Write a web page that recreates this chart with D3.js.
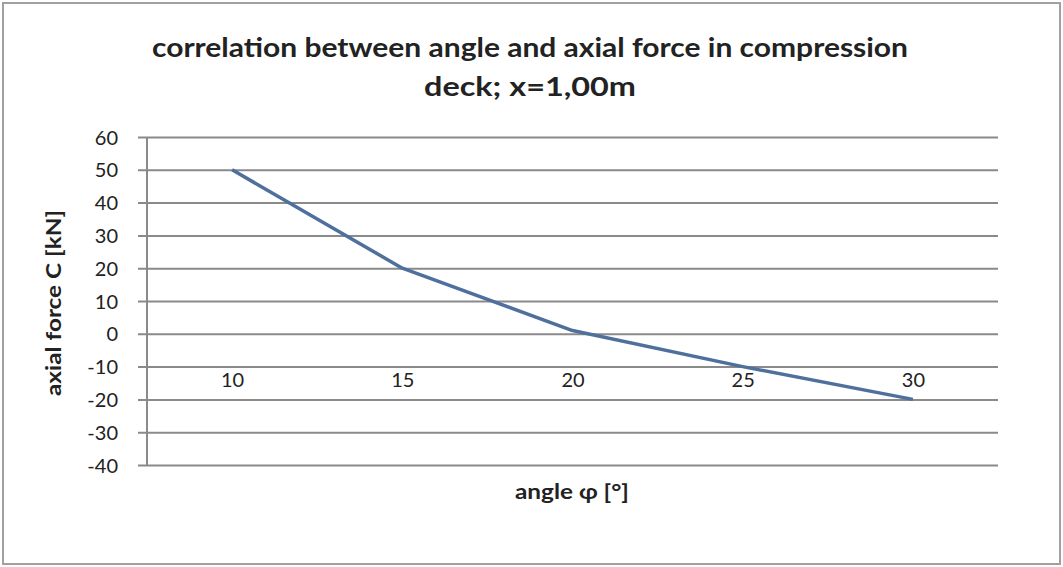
<!DOCTYPE html>
<html>
<head>
<meta charset="utf-8">
<script src="https://cdn.jsdelivr.net/npm/d3@7"></script>
<style>
  html, body { margin: 0; padding: 0; background: #fff; }
  svg { display: block; }
  text { font-family: Lato, "Open Sans", sans-serif; fill: #222; }
</style>
</head>
<body>
<svg id="chart" width="1063" height="567"></svg>
<script>
// Data: angle φ [°] vs. axial force C [kN]
const angles = ["10", "15", "20", "25", "30"];
const axialForce = [50, 20, 1, -10, -20];
const yTicks = [60, 50, 40, 30, 20, 10, 0, -10, -20, -30, -40];
const titleLines = ["correlation between angle and axial force in compression", "deck; x=1,00m"];
const xTitle = "angle φ [°]";
const yTitle = "axial force C [kN]";

const W = 1063, H = 567;
const plot = { left: 147, right: 998, top: 137, bottom: 465 };

const svg = d3.select("#chart");

// chart frame
svg.append("rect")
  .attr("x", 3).attr("y", 3).attr("width", W - 6).attr("height", H - 6)
  .attr("fill", "#fff").attr("stroke", "#a0a0a0").attr("stroke-width", 2);

const x = d3.scalePoint().domain(angles).range([plot.left, plot.right]).padding(0.5);
const y = d3.scaleLinear().domain([-40, 60]).range([plot.bottom, plot.top]);

// horizontal gridlines with the value axis (plain hyphen for negatives)
const yAxis = d3.axisLeft(y).tickValues(yTicks).tickSize(plot.right - plot.left + 1)
  .tickSizeOuter(0).tickPadding(0).tickFormat(d => String(d));
const gy = svg.append("g")
  .attr("transform", `translate(${plot.right},0)`)
  .call(yAxis);
gy.select(".domain").remove();
gy.selectAll(".tick line")
  .attr("x1", 0)
  .attr("x2", -(plot.right - plot.left + 9))
  .attr("stroke", "#8a8a8a").attr("stroke-width", 2);
gy.selectAll(".tick text")
  .attr("x", -(plot.right - 118))
  .attr("text-anchor", "end")
  .attr("dy", "0.35em")
  .style("font-size", "20px")
  .style("font-family", "Lato, sans-serif")
  .attr("fill", "#333");

// vertical axis line
svg.append("line")
  .attr("x1", plot.left).attr("x2", plot.left)
  .attr("y1", plot.top).attr("y2", plot.bottom)
  .attr("stroke", "#8a8a8a").attr("stroke-width", 2);

// category axis: crosses the value axis at -10, labels below it
const xAxis = d3.axisBottom(x).tickSize(0).tickPadding(6);
const gx = svg.append("g")
  .attr("transform", `translate(0,${y(-10)})`)
  .call(xAxis);
gx.select(".domain").remove();
gx.selectAll(".tick text")
  .style("font-size", "20px")
  .style("font-family", "Lato, sans-serif")
  .attr("fill", "#333");

// data line
const line = d3.line()
  .x((d, i) => x(angles[i]))
  .y(d => y(d));
svg.append("path")
  .datum(axialForce)
  .attr("d", line)
  .attr("fill", "none")
  .attr("stroke", "#4f6f9d")
  .attr("stroke-width", 3.5)
  .attr("stroke-linejoin", "round");

// title
const title = svg.append("text")
  .attr("text-anchor", "middle")
  .style("font-size", "27px")
  .style("font-weight", "bold")
  .attr("fill", "#1e1e1e");
title.append("tspan").attr("x", 530).attr("y", 57).text(titleLines[0])
  .attr("textLength", 756).attr("lengthAdjust", "spacingAndGlyphs");
title.append("tspan").attr("x", 530).attr("y", 96).text(titleLines[1])
  .attr("textLength", 212).attr("lengthAdjust", "spacingAndGlyphs");

// axis titles
svg.append("text")
  .attr("x", 572).attr("y", 499)
  .attr("text-anchor", "middle")
  .style("font-size", "21px").style("font-weight", "bold")
  .attr("fill", "#222")
  .attr("textLength", 114).attr("lengthAdjust", "spacingAndGlyphs")
  .text(xTitle);

svg.append("text")
  .attr("transform", `translate(61,303) rotate(-90)`)
  .attr("text-anchor", "middle")
  .style("font-size", "21px").style("font-weight", "bold")
  .attr("fill", "#222")
  .attr("textLength", 186).attr("lengthAdjust", "spacingAndGlyphs")
  .text(yTitle);
</script>
</body>
</html>
